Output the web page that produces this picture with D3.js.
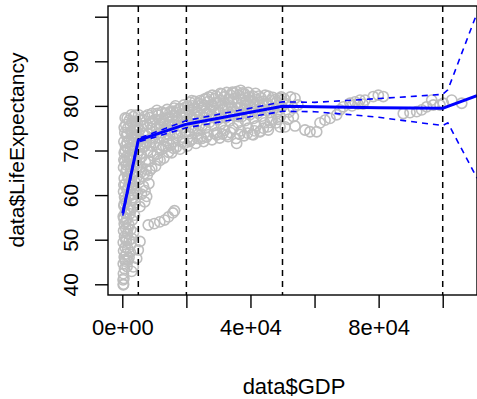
<!DOCTYPE html>
<html><head><meta charset="utf-8">
<script src="https://cdn.jsdelivr.net/npm/d3@7"></script>
<style>html,body{margin:0;padding:0;background:#fff}svg{display:block}</style>
</head><body>
<svg id="chart" width="477" height="399"></svg>
<script>
// ---- data ----
const xTicks = [0, 20000, 40000, 60000, 80000, 100000];
const xTickLabels = ["0e+00", "", "4e+04", "", "8e+04", ""];
const yTicks = [40, 50, 60, 70, 80, 90, 100];
const yTickLabels = ["40", "50", "60", "70", "80", "90", ""];
const knots = [5000, 20000, 50000, 100000];

const fitGDP   = [150, 5000, 20000, 50000, 60000, 70000, 80000, 90000, 100000, 101600, 110700];
const fitLE    = [55.9, 72.3, 75.9, 79.9, 79.8, 79.7, 79.6, 79.55, 79.45, 79.9, 82.3];
const fitUpper = [56.4, 72.7, 76.7, 80.9, 80.8, 81.2, 81.65, 82.1, 82.6, 83.6, 100.8];
const fitLower = [55.4, 71.9, 75.1, 78.8, 78.7, 78.1, 77.45, 76.5, 75.6, 76.2, 63.8];

const points = [
 // low-income column
 [300,39.9],[250,41.0],[400,40.0],[500,41.3],[350,42.4],[700,43.5],[300,44.6],[900,45.2],[1500,44.0],[600,46.1],
 [1200,46.8],[2100,46.0],[400,47.5],[900,48.3],[1700,48.0],[2500,47.2],[300,49.4],[1300,49.8],[2200,49.9],[700,50.7],
 [3000,50.3],[1600,51.4],[400,52.0],[1100,52.5],[2600,52.2],[3500,51.6],[600,53.6],[2000,53.4],[1400,54.6],[3100,54.4],
 [300,55.2],[900,56.0],[2400,55.8],[3800,55.5],[1700,57.0],[500,57.6],[3300,57.2],[1200,58.4],[2800,58.8],[4000,58.3],
 [700,59.6],[2100,59.9],[3600,60.2],[400,60.8],[1500,61.2],[2900,61.6],[4300,61.0],[900,62.4],[2300,62.8],[3900,63.0],
 [600,63.8],[1700,64.2],[3200,64.5],[4500,64.0],[1100,65.3],[2600,65.7],[400,66.2],[3700,66.4],[1900,67.0],[800,67.6],
 [3000,67.8],[4400,67.5],[1400,68.6],[2400,68.9],[600,69.5],[3500,69.8],[4700,69.2],[1800,70.4],[1000,71.0],[2900,71.2],
 [4100,71.0],[500,72.0],[2200,72.4],[3600,72.6],[1300,73.3],[4600,73.4],[800,74.0],[2700,74.2],[1700,75.0],[3900,75.2],
 [1100,75.8],[3100,76.2],[2200,76.8],[4300,76.6],[1500,77.2],[3500,77.6],
 [2500,70.2],[1200,66.8],[3300,62.2],[600,58.0],[2000,56.8],[1000,54.0],[2800,60.0],[1600,73.8],[3200,73.8],[900,70.0],
 [2000,63.6],[3800,68.4],[4800,71.8],[4800,75.0],[4400,74.5],
 [800,45.6],[1800,45.4],[1000,50.2],[2700,49.0],[1800,52.6],[500,54.8],[2700,56.7],[1000,59.0],[3300,59.4],[1900,61.9],
 [500,62.3],[2900,63.6],[1400,65.6],[3300,66.8],[500,67.9],[2100,68.5],[3900,70.2],[1500,71.8],[2800,72.8],[600,75.2],
 [2500,75.8],[900,77.3],[4000,77.9],[2800,78.0],[4800,66.5],[4700,60.5],
 // column right-side outliers
 [4990,47.7],[5520,49.6],[4490,45.8],[3430,43.9],[2930,42.9],
 // outlier chain around LE 53-56
 [8100,53.3],[10000,53.6],[11700,54.0],[13200,54.4],[14400,55.1],[15800,56.0],[16300,56.5],
 // sparse group GDP 5000-9000
 [5500,57.4],[6600,62.0],[7100,61.0],[7600,59.7],[7000,58.5],[6000,60.2],[8300,62.6],
 // main cloud 5000-50000
 [5200,63.5],[6800,64.8],[5600,66.3],[7200,67.4],[6100,68.6],[5300,70.0],[6900,70.9],[5900,72.5],[7300,73.4],[5400,74.6],
 [6500,75.5],[5800,76.7],[7000,77.6],[5100,78.0],[6300,71.5],[7400,65.8],
 [7800,64.5],[9200,66.0],[8400,67.6],[9700,68.8],[7900,69.9],[8800,71.2],[9500,72.6],[8100,73.7],[9000,74.9],[7700,75.8],
 [9600,76.5],[8500,77.4],[9300,78.3],[8000,78.0],
 [10400,66.5],[11800,67.8],[10900,69.2],[12300,70.3],[10200,71.8],[11500,72.9],[12100,74.0],[10700,75.1],[11900,76.0],[10300,77.0],
 [11200,77.9],[12400,78.6],[10800,79.0],
 [13000,68.3],[14400,69.6],[12800,71.0],[13900,72.2],[14800,73.4],[13300,74.5],[14200,75.7],[12700,76.6],[14600,77.5],[13500,78.3],
 [14000,79.2],[12900,73.0],
 [15400,69.5],[16800,70.7],[15900,72.0],[17200,73.4],[15200,74.6],[16500,75.8],[17400,76.8],[15700,77.7],[16900,78.6],[16200,79.5],[15100,71.2],
 [18000,70.3],[19400,71.6],[18700,73.0],[19800,74.3],[17900,75.5],[19100,76.6],[18400,77.4],[19600,78.5],[18100,79.4],[19200,80.2],
 [20300,71.0],[21800,72.5],[20900,73.8],[22200,75.0],[20500,76.2],[21500,77.3],[22400,78.2],[20800,79.1],[21900,80.0],[21200,80.8],[22300,76.8],
 [23000,71.6],[24500,73.0],[23600,74.4],[24900,75.6],[22900,76.9],[24100,77.8],[23400,78.7],[24700,79.6],[23800,80.5],[24300,81.2],
 [25400,72.0],[26800,73.5],[25900,75.0],[27200,76.3],[25300,77.4],[26500,78.3],[27400,79.2],[25700,80.1],[26900,81.0],[26200,81.7],
 [28000,72.4],[29500,74.0],[28600,75.6],[29800,76.9],[27900,78.0],[29100,79.0],[28300,79.9],[29600,80.8],[28800,81.6],[29300,82.2],
 [30400,72.8],[31900,74.5],[30800,76.0],[32300,77.3],[30200,78.4],[31500,79.3],[32100,80.3],[30600,81.2],[31700,82.0],[31100,82.7],
 [33000,73.1],[34600,75.0],[33500,76.6],[34900,77.8],[32800,78.9],[34200,79.8],[33300,80.7],[34700,81.6],[33800,82.4],[34400,83.1],
 [35500,72.7],[37000,74.4],[36100,76.2],[37300,77.6],[35300,78.7],[36700,79.7],[35900,80.6],[37200,81.5],[36300,82.4],[35700,83.2],
 [38000,73.3],[39300,75.0],[38400,76.7],[39800,78.0],[37900,79.2],[39000,80.2],[38600,81.1],[39600,82.0],[38200,82.7],
 [40500,73.6],[41800,75.5],[41000,77.2],[42300,78.4],[40300,79.6],[41500,80.5],[42100,81.4],[40800,82.2],
 [43000,74.3],[44400,76.2],[43500,77.7],[44800,79.0],[42900,80.1],[44000,81.0],[43300,81.8],
 [45400,75.3],[46700,77.0],[45900,78.5],[47200,79.5],[45300,80.5],[46400,81.3],[47000,81.9],
 [48000,76.2],[49300,77.6],[48500,78.8],[49800,79.8],[48200,80.8],[49100,81.6],
 // main cloud, further observations
 [6000,65.2],[8600,65.5],[5700,69.2],[8900,69.6],[6600,73.8],[8700,76.1],[6200,77.0],[9100,72.9],[7500,71.8],[5500,71.1],
 [11000,68.0],[13600,70.8],[11300,70.6],[14500,71.6],[10600,73.6],[13000,75.9],[11600,75.2],[14700,76.4],[11000,78.3],[13700,77.2],[12200,77.0],[14900,78.7],
 [16000,70.5],[18800,71.9],[16600,73.8],[18300,74.3],[15600,75.8],[19900,75.9],[17000,77.2],[18900,78.0],[15800,78.8],[17700,79.3],[16600,80.0],[19500,79.6],
 [21000,72.0],[23500,72.7],[21500,75.2],[24000,75.6],[21200,77.8],[23200,77.5],[22500,79.5],[20400,80.0],[24900,80.4],[22700,81.0],[21700,81.2],
 [26300,73.0],[28700,73.8],[26200,76.7],[28800,77.3],[25600,78.8],[27700,80.2],[27000,82.0],[29000,80.6],[25600,81.5],[28100,82.4],
 [31300,73.7],[33800,74.0],[31000,77.4],[33800,78.1],[31200,80.0],[33100,81.5],[30600,82.8],[32600,83.0],[34800,82.9],[32900,79.7],
 [36600,73.6],[39100,73.9],[36300,77.6],[38600,78.4],[36000,79.4],[38300,80.2],[37500,82.9],[39300,83.0],[36900,83.5],[39900,81.2],
 [41300,74.4],[44000,75.0],[41800,78.9],[43400,79.5],[40800,81.0],[42600,82.2],[44600,82.4],[41600,82.8],[43900,80.4],
 [46200,76.3],[48600,77.0],[46300,79.4],[48800,80.1],[47800,81.4],[45600,82.2],[49600,82.0],[48100,78.2],
 // lower-edge stragglers
 [21160,72.3],[24780,72.7],[29460,73.5],[32580,73.5],[35700,71.6],[40880,73.5],[42980,74.2],[45570,74.6],[49220,75.3],
 // 50000-55000
 [50800,75.3],[53900,75.5],[53400,77.6],[53400,79.5],[53900,81.7],[51000,80.5],[52000,78.6],[50500,81.6],[54800,80.2],[51800,77.0],[52500,82.0],
 // high-income tail
 [57020,74.6],[58580,74.2],[60670,74.2],[61700,76.2],[63260,76.8],[64820,77.2],[66910,78.0],[67950,79.1],[68970,79.8],[71070,80.6],
 [72630,80.9],[74190,81.3],[75750,81.3],[78340,82.1],[79900,82.4],[71690,80.0],[73560,80.4],[75120,80.4],
 [81460,82.1],[87700,78.3],[89790,78.5],[91880,78.7],[93440,79.1],[95000,79.8],[96560,81.3],[97060,80.2],[99150,80.2],
 [100190,80.6],[102810,81.3],[105930,80.6]
];

// ---- chart ----
const plotL = 108, plotR = 477, plotT = 6, plotB = 295;
const svg = d3.select("#chart");
const x = d3.scaleLinear().domain([-4460, 110700]).range([plotL, plotR]);
const y = d3.scaleLinear().domain([37.6, 102.4]).range([plotB, plotT]);
const font = "'Liberation Sans', Arial, Helvetica, sans-serif";

svg.append("defs").append("clipPath").attr("id", "plotclip")
  .append("rect").attr("x", plotL).attr("y", plotT).attr("width", plotR - plotL).attr("height", plotB - plotT);

const plot = svg.append("g").attr("clip-path", "url(#plotclip)");

plot.selectAll("circle.pt").data(points).join("circle")
  .attr("class", "pt")
  .attr("cx", d => x(d[0])).attr("cy", d => y(d[1])).attr("r", 5.1)
  .attr("fill", "none").attr("stroke", "#BEBEBE").attr("stroke-width", 1.6);

plot.selectAll("line.knot").data(knots).join("line")
  .attr("class", "knot")
  .attr("x1", d => x(d)).attr("x2", d => x(d)).attr("y1", plotT).attr("y2", plotB)
  .attr("stroke", "#000").attr("stroke-width", 1.5).attr("stroke-dasharray", "6,5");

const fitRows = fitGDP.map((g, i) => ({g, m: fitLE[i], u: fitUpper[i], l: fitLower[i]}));
const lineOf = key => d3.line().x(d => x(d.g)).y(d => y(d[key]));

plot.append("path").datum(fitRows).attr("d", lineOf("m"))
  .attr("fill", "none").attr("stroke", "#0000FF").attr("stroke-width", 3);
["u", "l"].forEach(k => {
  plot.append("path").datum(fitRows).attr("d", lineOf(k))
    .attr("fill", "none").attr("stroke", "#0000FF").attr("stroke-width", 1.6)
    .attr("stroke-dasharray", "6,5");
});

// box
svg.append("rect").attr("x", plotL).attr("y", plotT).attr("width", plotR - plotL).attr("height", plotB - plotT)
  .attr("fill", "none").attr("stroke", "#000").attr("stroke-width", 1.4);

// x axis
const xAxis = svg.append("g").attr("transform", `translate(0,${plotB})`)
  .call(d3.axisBottom(x).tickValues(xTicks).tickFormat((d, i) => xTickLabels[i]).tickSize(13));
xAxis.select(".domain").remove();
xAxis.selectAll(".tick line").attr("stroke", "#000").attr("stroke-width", 1.4);
xAxis.selectAll(".tick text").attr("y", 40).attr("dy", 0)
  .attr("font-family", font).attr("font-size", 22).attr("fill", "#000");

// y axis
const yAxis = svg.append("g").attr("transform", `translate(${plotL},0)`)
  .call(d3.axisLeft(y).tickValues(yTicks).tickFormat((d, i) => yTickLabels[i]).tickSize(13));
yAxis.select(".domain").remove();
yAxis.selectAll(".tick line").attr("stroke", "#000").attr("stroke-width", 1.4);
yAxis.selectAll(".tick text")
  .attr("x", null).attr("dy", null)
  .attr("transform", "translate(-30,0) rotate(-90)")
  .attr("text-anchor", "middle")
  .attr("font-family", font).attr("font-size", 21).attr("fill", "#000");

// titles
svg.append("text").attr("x", 294).attr("y", 394).attr("text-anchor", "middle")
  .attr("font-family", font).attr("font-size", 22).attr("fill", "#000").text("data$GDP");
svg.append("text").attr("transform", "translate(24,150) rotate(-90)").attr("text-anchor", "middle")
  .attr("font-family", font).attr("font-size", 21).attr("fill", "#000").text("data$LifeExpectancy");
</script>
</body></html>
